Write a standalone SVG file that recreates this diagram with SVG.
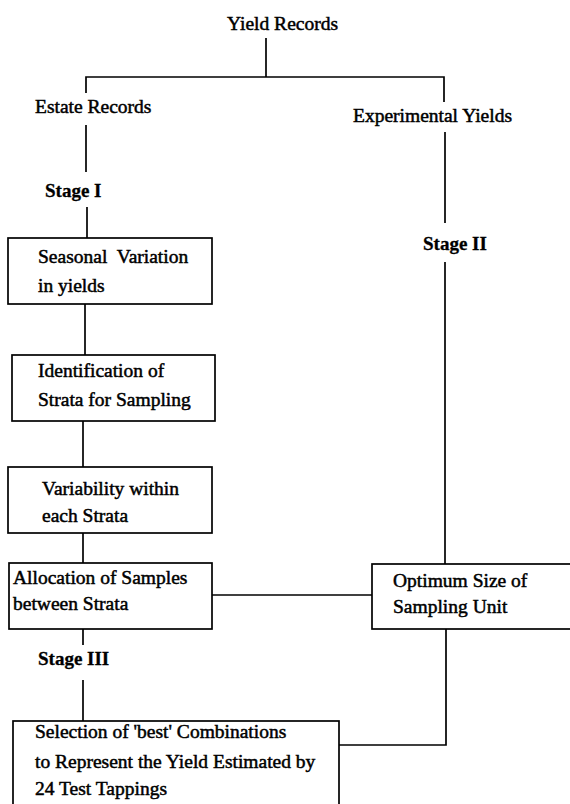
<svg xmlns="http://www.w3.org/2000/svg" width="570" height="804" viewBox="0 0 570 804">
<style>
  .t { font-family: "Liberation Serif", "Times New Roman", serif; font-size: 19.5px; fill: #000; stroke: #000; stroke-width: 0.5; }
  .s { font-family: "Liberation Serif", "Times New Roman", serif; font-size: 19px; font-weight: bold; fill: #000; stroke: #000; stroke-width: 0.3; }
  .box { fill: #fff; stroke: #000; stroke-width: 1.7; }
  .ln { fill: none; stroke: #000; stroke-width: 1.7; }
</style>
<rect width="570" height="804" fill="#fff"/>
<g id="connectors">
  <path class="ln" d="M266 38 V77"/>
  <path class="ln" d="M86 93 V77 H444 V102"/>
  <path class="ln" d="M86 125 V172"/>
  <path class="ln" d="M87 207 V238"/>
  <path class="ln" d="M85 304 V355"/>
  <path class="ln" d="M83 421 V467"/>
  <path class="ln" d="M83 533 V563"/>
  <path class="ln" d="M83 629 V645"/>
  <path class="ln" d="M83 680 V721"/>
  <path class="ln" d="M445 132 V223"/>
  <path class="ln" d="M445 262 V564"/>
  <path class="ln" d="M212 595 H372"/>
  <path class="ln" d="M446 629 V745 H339"/>
</g>
<g id="yield-records"><text class="t" x="227" y="30">Yield Records</text></g>
<g id="estate-records"><text class="t" x="35" y="113">Estate Records</text></g>
<g id="experimental-yields"><text class="t" x="353" y="122">Experimental Yields</text></g>
<g id="stage-1"><text class="s" x="45" y="197">Stage I</text></g>
<g id="stage-2"><text class="s" x="423" y="250">Stage II</text></g>
<g id="stage-3"><text class="s" x="38" y="665">Stage III</text></g>
<g id="seasonal-variation">
  <rect class="box" x="8" y="238" width="204" height="66"/>
  <text class="t" x="38" y="263" xml:space="preserve">Seasonal  Variation</text>
  <text class="t" x="38" y="292">in yields</text>
</g>
<g id="identification-strata">
  <rect class="box" x="12" y="355" width="203" height="66"/>
  <text class="t" x="38" y="377">Identification of</text>
  <text class="t" x="38" y="406">Strata for Sampling</text>
</g>
<g id="variability-strata">
  <rect class="box" x="8" y="467" width="204" height="66"/>
  <text class="t" x="42" y="495">Variability within</text>
  <text class="t" x="42" y="522">each Strata</text>
</g>
<g id="allocation-samples">
  <rect class="box" x="9" y="563" width="203" height="66"/>
  <text class="t" x="13" y="584">Allocation of Samples</text>
  <text class="t" x="13" y="610">between Strata</text>
</g>
<g id="optimum-size">
  <rect class="box" x="372" y="564" width="202" height="65"/>
  <text class="t" x="393" y="587">Optimum Size of</text>
  <text class="t" x="393" y="613">Sampling Unit</text>
</g>
<g id="selection-best">
  <rect class="box" x="13" y="721" width="326" height="95"/>
  <text class="t" x="35" y="738">Selection of 'best' Combinations</text>
  <text class="t" x="35" y="768">to Represent the Yield Estimated by</text>
  <text class="t" x="35" y="795">24 Test Tappings</text>
</g>
</svg>
